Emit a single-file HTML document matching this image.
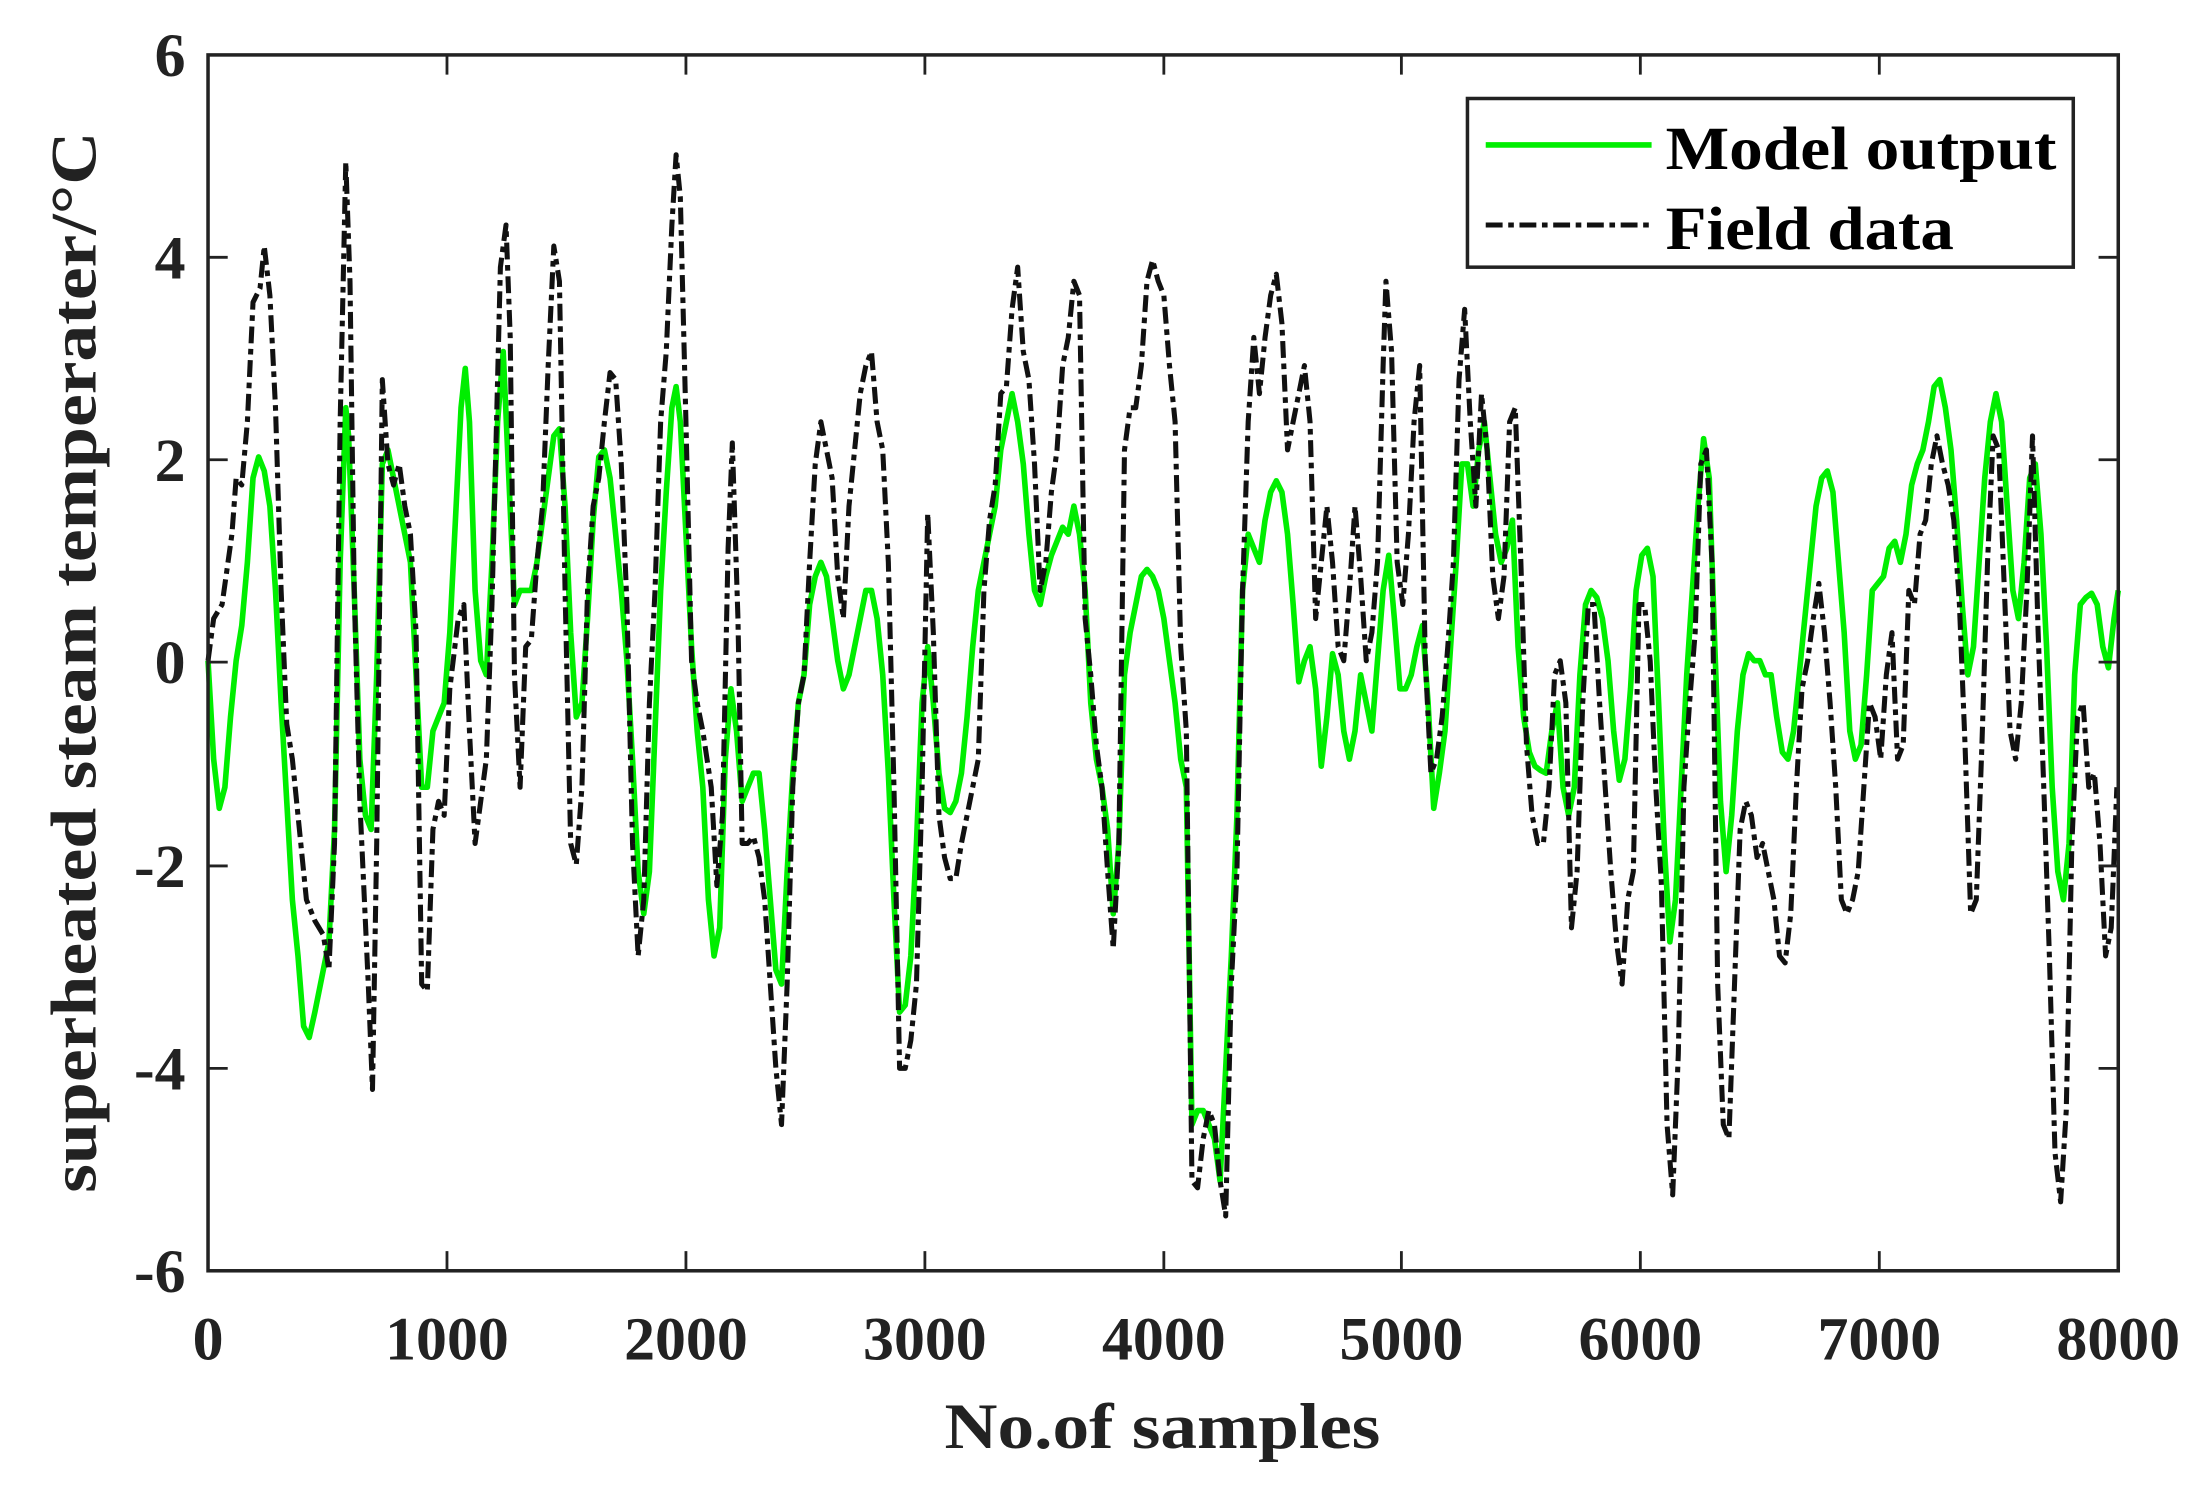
<!DOCTYPE html>
<html><head><meta charset="utf-8"><style>html,body{margin:0;padding:0;background:#fff}svg{display:block}</style></head>
<body>
<svg width="2204" height="1500" viewBox="0 0 1568 1067" xmlns="http://www.w3.org/2000/svg" font-family="'Liberation Serif', serif" font-weight="bold" fill="#222">
<rect width="1568" height="1067" fill="#fff"/>
<g fill="none">
<polyline stroke="#00ee00" stroke-width="4" stroke-linejoin="round" points="148,470 152,540 156,575 160,560 164,510 168,470 172,445 176,400 180,340 184,325 188,335 192,360 196,420 200,500 204,570 208,640 212,680 216,730 220,738 224,720 228,700 234,670 238,590 242,400 246,290 248,310 252,420 256,540 260,580 264,590 268,480 272,330 276,320 280,340 284,360 288,380 292,400 296,480 300,560 304,560 308,520 312,510 316,500 320,450 324,370 328,290 331,262 334,300 338,420 342,470 346,480 350,400 354,300 358,250 362,340 366,430 370,420 374,420 378,420 382,400 386,370 390,340 394,310 398,305 402,360 406,450 410,510 414,500 418,440 422,370 426,325 430,320 434,340 438,380 442,420 446,470 450,540 454,620 458,650 462,620 466,520 470,420 474,350 478,290 481,275 484,300 488,380 492,460 496,520 500,560 504,640 508,680 512,660 516,540 520,490 524,520 528,570 532,560 536,550 540,550 544,590 548,640 552,690 556,700 560,620 564,550 568,500 572,480 576,430 580,410 584,400 588,410 592,440 596,470 600,490 604,480 608,460 612,440 616,420 620,420 624,440 628,480 632,550 636,640 640,720 644,715 648,680 652,600 656,500 660,460 664,500 668,550 672,575 676,578 680,570 684,550 688,510 692,460 696,420 700,400 704,380 708,360 712,320 716,300 720,280 724,300 728,330 732,380 736,420 740,430 744,410 748,395 752,385 756,375 760,380 764,360 768,380 772,420 776,500 780,540 784,560 788,590 792,650 796,600 800,480 804,450 808,430 812,410 816,405 820,410 824,420 828,440 832,470 836,500 840,540 844,560 848,800 852,790 856,790 860,800 864,810 868,840 872,760 876,680 880,580 884,420 888,380 892,390 896,400 900,370 904,350 908,342 912,350 916,380 920,430 924,485 928,470 932,460 936,490 940,545 944,510 948,465 952,480 956,520 960,540 964,520 968,480 972,500 976,520 980,470 984,420 988,395 992,440 996,490 1000,490 1004,480 1008,460 1012,445 1016,500 1020,575 1024,550 1028,520 1032,460 1036,400 1040,330 1044,330 1048,360 1052,320 1056,300 1060,340 1064,380 1068,400 1072,390 1076,370 1080,460 1084,510 1088,535 1092,545 1096,548 1100,550 1104,520 1108,500 1112,560 1116,580 1120,560 1124,480 1128,430 1132,420 1136,425 1140,440 1144,470 1148,520 1152,555 1156,540 1160,490 1164,420 1168,395 1172,390 1176,410 1180,500 1184,600 1188,670 1192,640 1196,560 1200,480 1204,420 1208,360 1212,312 1216,340 1220,460 1224,570 1228,620 1232,580 1236,520 1240,480 1244,465 1248,470 1252,470 1256,480 1260,480 1264,510 1268,535 1272,540 1276,520 1280,480 1284,440 1288,400 1292,360 1296,340 1300,335 1304,350 1308,400 1312,450 1316,520 1320,540 1324,530 1328,480 1332,420 1336,415 1340,410 1344,390 1348,385 1352,400 1356,380 1360,345 1364,330 1368,320 1372,300 1376,275 1380,270 1384,290 1388,320 1392,370 1396,430 1400,480 1404,460 1408,400 1412,340 1416,300 1420,280 1424,300 1428,360 1432,420 1436,440 1440,400 1444,340 1448,330 1452,380 1456,460 1460,560 1464,620 1468,640 1472,600 1476,480 1480,430 1484,425 1488,422 1492,430 1496,460 1500,475 1504,440 1507,420"/>
<polyline stroke="#111" stroke-width="3.6" stroke-dasharray="12,4,4,4" stroke-linejoin="round" points="148,470 152,440 158,430 165,380 168,340 172,345 176,300 180,215 185,205 188,175 192,210 196,290 200,420 204,515 208,540 214,600 218,640 224,655 230,665 234,690 238,600 242,300 246,115 249,200 252,420 256,570 262,700 265,775 268,600 272,270 276,330 280,345 284,330 288,360 292,380 296,450 300,700 304,705 308,590 312,570 316,580 320,490 326,440 330,430 334,520 338,600 342,570 346,540 350,430 356,190 360,160 363,240 366,480 370,560 374,460 378,455 382,400 386,360 390,260 394,175 398,200 402,420 406,600 410,615 414,560 418,420 422,360 426,340 430,300 434,265 438,270 442,330 446,430 450,600 454,680 458,640 462,500 466,420 470,300 474,250 478,160 481,110 484,140 488,300 492,470 496,500 500,520 506,560 510,630 514,580 518,390 521,315 525,440 528,600 532,600 536,595 540,610 544,640 548,700 552,760 556,800 560,700 564,560 568,500 572,480 576,400 580,330 584,300 588,320 592,340 596,410 600,440 604,360 608,320 612,280 616,260 620,250 624,300 628,320 632,400 636,560 640,760 644,760 648,740 652,700 656,560 660,365 664,450 668,580 672,610 676,625 680,625 684,600 688,580 692,560 696,540 700,420 704,370 708,345 712,280 716,275 720,220 724,190 728,250 732,270 736,330 740,420 744,400 748,350 752,320 756,260 760,240 764,200 768,210 772,440 776,480 780,530 784,560 788,620 792,675 796,600 800,320 804,290 808,290 812,260 816,200 820,185 824,200 828,210 832,260 836,300 840,460 844,520 848,840 852,845 856,810 860,790 864,800 868,840 872,865 876,700 880,620 884,420 888,300 892,240 896,280 900,240 904,210 908,195 912,230 916,320 920,300 924,280 928,260 932,300 936,440 940,400 944,360 948,400 952,460 956,470 960,420 964,360 968,410 972,470 976,450 980,400 984,260 986,200 990,250 994,400 998,430 1002,380 1006,300 1010,260 1014,470 1018,550 1022,540 1026,510 1030,460 1034,400 1038,270 1042,220 1046,300 1050,360 1054,280 1058,320 1062,410 1066,440 1070,410 1074,300 1078,290 1082,400 1086,530 1090,580 1094,600 1098,600 1102,560 1106,480 1110,470 1114,500 1118,660 1122,620 1126,500 1130,430 1134,430 1138,500 1142,560 1146,620 1150,670 1154,700 1158,640 1162,620 1166,430 1170,430 1174,470 1178,560 1182,630 1186,800 1190,850 1194,750 1198,560 1202,500 1206,450 1210,330 1214,320 1218,400 1222,700 1226,800 1230,810 1234,700 1238,590 1242,570 1246,580 1250,610 1254,600 1258,620 1262,640 1266,680 1270,685 1274,650 1278,560 1282,490 1286,470 1290,440 1294,415 1298,450 1302,500 1306,560 1310,640 1314,650 1318,640 1322,620 1326,560 1330,500 1334,510 1338,540 1342,480 1346,450 1350,540 1354,530 1358,420 1362,430 1366,380 1370,370 1374,330 1378,310 1382,330 1386,345 1390,370 1394,430 1398,530 1402,650 1406,640 1410,530 1414,400 1418,310 1422,320 1426,420 1430,520 1434,540 1438,500 1442,420 1446,310 1450,450 1454,560 1458,680 1462,820 1466,855 1470,790 1474,600 1478,510 1482,500 1486,560 1490,550 1494,600 1498,680 1502,660 1506,560"/>
<rect x="148" y="39" width="1359" height="865" stroke="#222" stroke-width="2.5"/>
<path stroke="#222" stroke-width="2" d="M318,904v-14M488,904v-14M658,904v-14M828,904v-14M997,904v-14M1167,904v-14M1337,904v-14M318,39v14M488,39v14M658,39v14M828,39v14M997,39v14M1167,39v14M1337,39v14M148,183h14M148,327h14M148,471h14M148,616h14M148,760h14M1507,183h-14M1507,327h-14M1507,471h-14M1507,616h-14M1507,760h-14"/>
<rect x="1044" y="70" width="431" height="120" fill="#fff" stroke="#222" stroke-width="2.5"/>
<line x1="1057" y1="103" x2="1175" y2="103" stroke="#00ee00" stroke-width="4"/>
<line x1="1057" y1="160" x2="1175" y2="160" stroke="#111" stroke-width="3.6" stroke-dasharray="12,4,4,4"/>
</g>
<g font-size="44" fill="#000">
<text x="1185" y="120" textLength="278" lengthAdjust="spacingAndGlyphs">Model output</text>
<text x="1185" y="177" textLength="205" lengthAdjust="spacingAndGlyphs">Field data</text>
</g>
<g font-size="44" text-anchor="end">
<text x="132" y="54">6</text>
<text x="132" y="198">4</text>
<text x="132" y="342">2</text>
<text x="132" y="486">0</text>
<text x="132" y="631">-2</text>
<text x="132" y="775">-4</text>
<text x="132" y="919">-6</text>
</g>
<g font-size="44" text-anchor="middle">
<text x="148" y="967">0</text>
<text x="318" y="967" textLength="88" lengthAdjust="spacingAndGlyphs">1000</text>
<text x="488" y="967" textLength="88" lengthAdjust="spacingAndGlyphs">2000</text>
<text x="658" y="967" textLength="88" lengthAdjust="spacingAndGlyphs">3000</text>
<text x="828" y="967" textLength="88" lengthAdjust="spacingAndGlyphs">4000</text>
<text x="997" y="967" textLength="88" lengthAdjust="spacingAndGlyphs">5000</text>
<text x="1167" y="967" textLength="88" lengthAdjust="spacingAndGlyphs">6000</text>
<text x="1337" y="967" textLength="88" lengthAdjust="spacingAndGlyphs">7000</text>
<text x="1507" y="967" textLength="88" lengthAdjust="spacingAndGlyphs">8000</text>
</g>
<text x="827" y="1030" font-size="46" text-anchor="middle" textLength="310" lengthAdjust="spacingAndGlyphs">No.of samples</text>
<text transform="translate(68,471) rotate(-90)" font-size="46" text-anchor="middle" textLength="755" lengthAdjust="spacingAndGlyphs">superheated steam temperater/°C</text>
</svg>
</body></html>
